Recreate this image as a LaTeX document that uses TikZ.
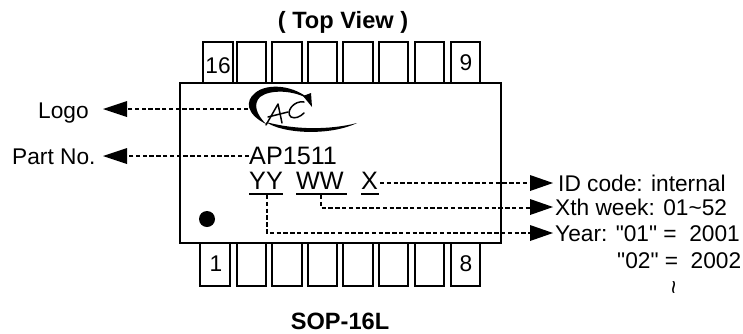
\documentclass[tikz,border=0pt]{standalone}
\usepackage{fontspec}
\setmainfont[Ligatures=TeXOff]{Liberation Sans}
\usetikzlibrary{arrows.meta}
\tikzset{
 x=1pt,y=-1pt,
 lbl/.style={inner sep=0pt,font=\fontsize{22.7}{23}\selectfont,anchor=base west},
 big/.style={lbl,font=\fontsize{25.2}{25}\selectfont},
 head/.style={inner sep=0pt,font=\bfseries\fontsize{23.6}{24}\selectfont,anchor=base},
 lead/.style={line width=1.3pt,dash pattern=on 4.4pt off 2.4pt},
 pinline/.style={line width=1.3pt},
 logostroke/.style={line width=1.5pt,line cap=round,line join=round},
}
\begin{document}
\begin{tikzpicture}
\useasboundingbox (0,0) rectangle (743,333);
\node[head] (title) at (343,28) {( Top View )};
\node[head] (pkg) at (340,329) {SOP-16L};
\draw[line width=1.4pt] (180,83) rectangle (501,243);
\foreach \a/\b in {203/233,237/266,272/302,308/337,343/373,379/408,415/444,451/480}{
  \draw[pinline] (\a,83) -- (\a,42) -- (\b,42) -- (\b,83);}
\foreach \a/\b in {200/230,237/266,272/302,308/337,343/373,379/408,415/444,451/480}{
  \draw[pinline] (\a,243) -- (\a,286) -- (\b,286) -- (\b,243);}
\node[lbl,anchor=base] (p16) at (218,73) {16};
\node[lbl,anchor=base] (p9) at (466,70) {9};
\node[lbl,anchor=base] (p1) at (216,271) {1};
\node[lbl,anchor=base] (p8) at (466,271) {8};
\fill (207,219) circle (8);
% logo
\fill (310,100) .. controls (296,86) and (268,82) .. (255,93) .. controls (245,101) and (246,114) .. (266,124) .. controls (256,114) and (253,104) .. (260,97) .. controls (270,89) and (295,90) .. cycle;
\fill (303,96) -- (311,93) -- (312,107) -- cycle;
\fill (266,122) .. controls (283,134) and (330,136) .. (357,123) .. controls (330,130) and (295,130) .. cycle;
\draw[logostroke] (266,125) -- (278,104) -- (282,123);
\draw[logostroke] (268,117) -- (288,112);
\draw[logostroke] (304,102) .. controls (294,100) and (285,112) .. (291,117) .. controls (295,119) and (300,117) .. (304,113);
\coordinate (logoe) at (248,109);
\coordinate (parte) at (249,156);
% text
\node[lbl] (logo) at (38,118) {Logo};
\node[lbl] (part) at (12,164) {Part No.};
\node[big] (ap) at (249,164) {AP1511};
\node[big] (yy) at (249,189) {YY};
\node[big] (ww) at (296,189) {WW};
\node[big] (xx) at (361,189) {X};
\draw[line width=1.5pt] (249,194) -- (283,194);
\draw[line width=1.5pt] (296,194) -- (347,194);
\draw[line width=1.5pt] (361,194) -- (379,194);
\node[lbl] (id) at (558,191) {ID code: internal};
\node[lbl] (xth) at (555,215) {Xth week: 01\char126 52};
\node[lbl] (year) at (555,241) {Year: "01" =\ \ 2001};
\node[lbl] (y2) at (617,268) {"02" =\ \ 2002};
\node[inner sep=0pt,rotate=90,font=\fontsize{24}{24}\selectfont] (tl) at (677,287) {\char126 };
% leaders
\draw[lead] (logoe) -- (127,109);
\draw[lead] (parte) -- (127,156);
\draw[lead] (380,183) -- (530,183);
\draw[lead] (321,195) -- (321,208) -- (530,208);
\draw[lead] (267,195) -- (267,233) -- (530,233);
% heads
\fill (103,109) -- (127,101) -- (127,117) -- cycle;
\fill (103,156) -- (127,148) -- (127,164) -- cycle;
\fill (553,183) -- (530,175) -- (530,191) -- cycle;
\fill (553,207) -- (530,199) -- (530,215) -- cycle;
\fill (553,233) -- (530,225) -- (530,241) -- cycle;
\end{tikzpicture}
\end{document}
